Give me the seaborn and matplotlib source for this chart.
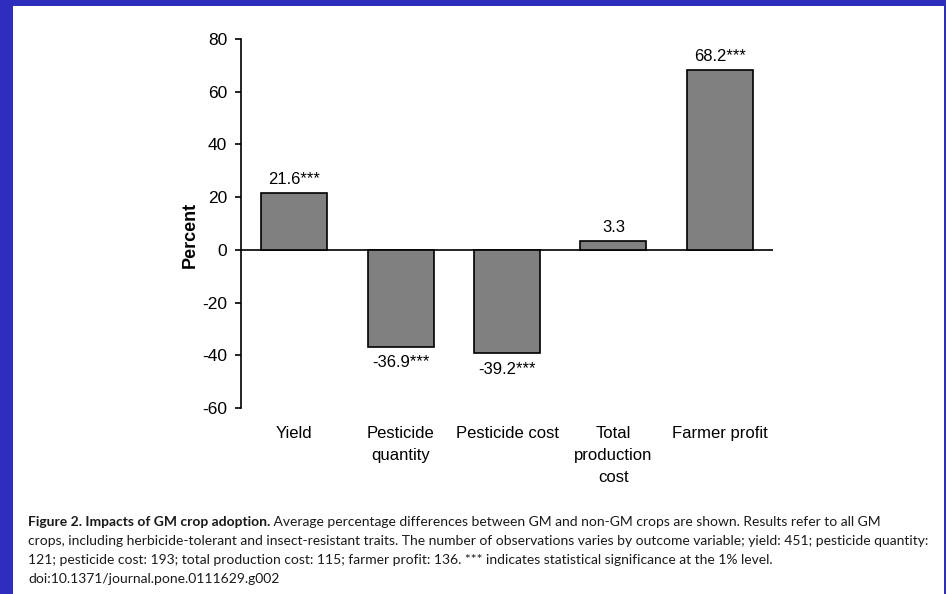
import numpy as np
import pandas as pd
import seaborn as sns
import matplotlib.pyplot as plt
from matplotlib.patches import Rectangle

# data
categories = ["Yield", "Pesticide\nquantity", "Pesticide cost", "Total\nproduction\ncost", "Farmer profit"]
values = [21.6, -36.9, -39.2, 3.3, 68.2]
bar_labels = ["21.6***", "-36.9***", "-39.2***", "3.3", "68.2***"]
yticks = [-60, -40, -20, 0, 20, 40, 60, 80]

caption_bold = "Figure 2. Impacts of GM crop adoption."
caption_lines = [
    " Average percentage differences between GM and non-GM crops are shown. Results refer to all GM",
    "crops, including herbicide-tolerant and insect-resistant traits. The number of observations varies by outcome variable; yield: 451; pesticide quantity:",
    "121; pesticide cost: 193; total production cost: 115; farmer profit: 136. *** indicates statistical significance at the 1% level.",
    "doi:10.1371/journal.pone.0111629.g002",
]

sns.set_style("white")
plt.rcParams['font.family'] = ['Liberation Sans', 'DejaVu Sans']
plt.rcParams['axes.unicode_minus'] = False

W, H = 946, 594
fig = plt.figure(figsize=(W / 100, H / 100), dpi=100)
fig.patch.set_facecolor("#2F2DBE")
fig.patches.append(Rectangle((13 / W, 0), (944 - 13) / W, 1 - 6 / H, transform=fig.transFigure,
                             facecolor="white", edgecolor="none", zorder=-10))

ax = fig.add_axes([241 / W, 1 - 408 / H, (773 - 241) / W, (408 - 39) / H])
ax.patch.set_alpha(0)
df = pd.DataFrame({"cat": categories, "val": values})
sns.barplot(data=df, x="cat", y="val", color="#808080", saturation=1, edgecolor="black",
            linewidth=1.2, width=0.62, ax=ax)

ax.axhline(0, color="black", lw=1.2, zorder=0.5)
ax.set_xlim(-0.5, 4.5)
ax.set_ylim(-60, 80)
ax.set_yticks(yticks)
ax.tick_params(axis="y", direction="out", length=4, width=1.2, labelsize=12.5, pad=6, left=True,
               colors="black")
ax.tick_params(axis="x", length=0, labelsize=12, pad=13, colors="black")
for lab in ax.get_xticklabels():
    lab.set_linespacing(1.6)
ax.set_xlabel("")
ax.set_ylabel("Percent", fontsize=13, fontweight="bold", color="black")
ax.yaxis.set_label_coords(-0.08, 0.469)
for s in ["top", "right", "bottom"]:
    ax.spines[s].set_visible(False)
ax.spines["left"].set_color("black")
ax.spines["left"].set_linewidth(1.2)

for bar, txt in zip(ax.patches, bar_labels):
    h = bar.get_height()
    xc = bar.get_x() + bar.get_width() / 2
    if h >= 0:
        ax.annotate(txt, (xc, h), xytext=(0, 4.5), textcoords="offset points",
                    ha="center", va="bottom", fontsize=12, color="black")
    else:
        ax.annotate(txt, (xc, h), xytext=(0, -6), textcoords="offset points",
                    ha="center", va="top", fontsize=12, color="black")

# caption, sized so the second (justified) line spans the page width
cap_font = ['Lato', 'DejaVu Sans']
renderer = fig.canvas.get_renderer()
probe = fig.text(0, 0, caption_lines[1], fontsize=10, family=cap_font)
w10 = probe.get_window_extent(renderer).width
probe.remove()
fs = 10 * (932 - 28) / w10

x0 = 28 / W
ys = [526, 545, 564, 583]
t = fig.text(x0, 1 - ys[0] / H, caption_bold, fontsize=fs, family=cap_font, fontweight="bold",
             color="#1a1a1a", va="baseline")
bw = t.get_window_extent(renderer).width
fig.text(x0 + bw / W, 1 - ys[0] / H, caption_lines[0], fontsize=fs, family=cap_font,
         color="#1a1a1a", va="baseline")
for line, y in zip(caption_lines[1:], ys[1:]):
    fig.text(x0, 1 - y / H, line, fontsize=fs, family=cap_font, color="#1a1a1a", va="baseline")

fig.savefig("out.png", dpi=100)
